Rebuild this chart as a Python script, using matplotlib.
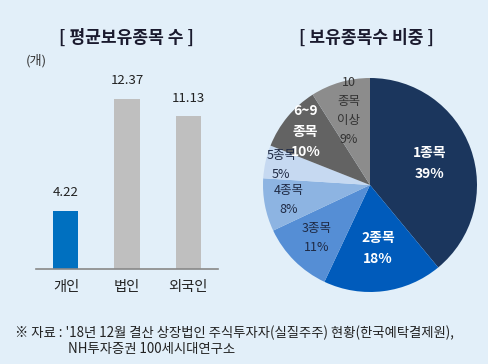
import matplotlib
matplotlib.use("Agg")
import matplotlib.pyplot as plt
import numpy as np

plt.rcParams["font.family"] = ["Noto Sans CJK KR", "DejaVu Sans"]

# left: average number of holdings
bar_cats = ["개인", "법인", "외국인"]
bar_vals = [4.22, 12.37, 11.13]
bar_colors = ["#0070C0", "#BFBFBF", "#BFBFBF"]

# right: share by number of holdings
pie_labels = ["1종목\n39%", "2종목\n18%", "3종목\n11%", "4종목\n8%", "5종목\n5%",
              "6~9\n종목\n10%", "10\n종목\n이상\n9%"]
pie_vals = [39, 18, 11, 8, 5, 10, 9]
pie_colors = ["#1B365D", "#005BBB", "#558ED5", "#8DB4E2", "#C6D9F1", "#636363", "#8C8C8C"]
label_r = [0.59, 0.6, 0.7, 0.77, 0.85, 0.78, 0.72]
label_colors = ["white", "white", "#1F2A44", "#1F2A44", "#1F2A44", "white", "#333333"]
label_bold = [True, True, False, False, False, True, False]

bg = "#E2EFF9"
W, H = 488, 364
fig = plt.figure(figsize=(W / 100, H / 100), dpi=100)
fig.patch.set_facecolor(bg)


def px(x0, y0, w, h):
    # left, top in pixels -> figure fraction rect
    return [x0 / W, 1 - (y0 + h) / H, w / W, h / H]


# bar chart
ymax = 14
ax = fig.add_axes(px(36, 269 - 13.74 * ymax, 182, 13.74 * ymax))
ax.set_facecolor("none")
xs = np.arange(len(bar_cats))
ax.bar(xs, bar_vals, width=0.41, color=bar_colors)
for x, v in zip(xs, bar_vals):
    ax.annotate(f"{v:.2f}", (x, v), xytext=(0, 13), textcoords="offset points",
                ha="center", va="center", fontsize=9.5, color="#222222")
ax.set_xlim(-0.49, 2.49)
ax.set_ylim(0, ymax)
for s in ["top", "right", "left"]:
    ax.spines[s].set_visible(False)
ax.spines["bottom"].set_color("#888888")
ax.spines["bottom"].set_linewidth(1.2)
ax.set_yticks([])
ax.set_xticks(xs)
ax.set_xticklabels(bar_cats, fontsize=10.3, color="#222222")
ax.tick_params(axis="x", length=0, pad=8)

fig.text(126 / W, 1 - 38 / H, "[ 평균보유종목 수 ]", ha="center", va="center",
         fontsize=12.3, fontweight="bold", color="#1A1A2E")
fig.text(26 / W, 1 - 61 / H, "(개)", ha="left", va="center", fontsize=9.5, color="#333333")

# pie chart
r = 107
pax = fig.add_axes(px(370 - r, 185 - r, 2 * r, 2 * r))
pax.set_facecolor("none")
wedges, _ = pax.pie(pie_vals, colors=pie_colors, startangle=90, counterclock=False,
                    radius=1)
pax.set_xlim(-1, 1)
pax.set_ylim(-1, 1)
pax.axis("off")
for w, lab, rr, c, b in zip(wedges, pie_labels, label_r, label_colors, label_bold):
    ang = np.deg2rad((w.theta1 + w.theta2) / 2)
    pax.text(rr * np.cos(ang), rr * np.sin(ang), lab, ha="center", va="center",
             fontsize=10 if b else 9, fontweight="bold" if b else "normal",
             color=c, linespacing=1.6)

fig.text(366 / W, 1 - 38 / H, "[ 보유종목수 비중 ]", ha="center", va="center",
         fontsize=12.3, fontweight="bold", color="#1A1A2E")

# source note
fig.text(15 / W, 1 - 333 / H,
         "※ 자료 : '18년 12월 결산 상장법인 주식투자자(실질주주) 현황(한국예탁결제원),",
         ha="left", va="center", fontsize=9.6, color="#222222")
fig.text(68 / W, 1 - 349 / H, "NH투자증권 100세시대연구소",
         ha="left", va="center", fontsize=9.6, color="#222222")

fig.savefig("out.png", dpi=100, facecolor=bg)
